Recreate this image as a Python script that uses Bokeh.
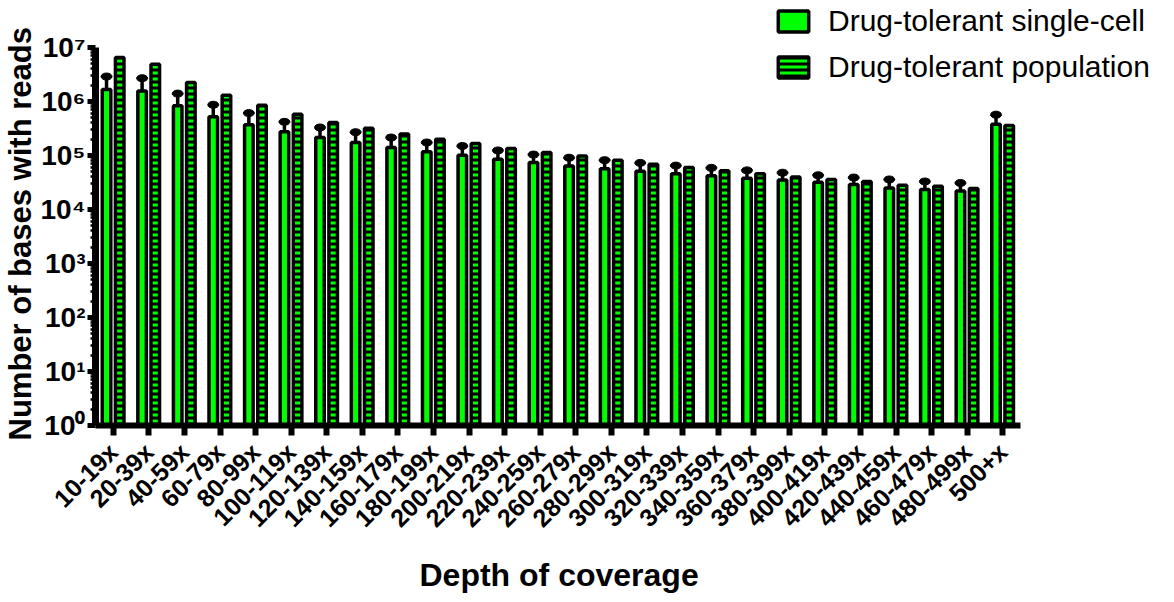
from bokeh.plotting import figure
from bokeh.models import ColumnDataSource, Range1d, FixedTicker, Legend, LegendItem, Title
from bokeh.transform import dodge
from bokeh.embed import file_html
from bokeh.resources import INLINE

categories = ["10-19x", "20-39x", "40-59x", "60-79x", "80-99x", "100-119x", "120-139x",
              "140-159x", "160-179x", "180-199x", "200-219x", "220-239x", "240-259x",
              "260-279x", "280-299x", "300-319x", "320-339x", "340-359x", "360-379x",
              "380-399x", "400-419x", "420-439x", "440-459x", "460-479x", "480-499x", "500+x"]
single_cell = [1.66e6, 1.56e6, 8.3e5, 5.2e5, 3.7e5, 2.75e5, 2.15e5, 1.74e5, 1.41e5, 1.17e5,
               1.01e5, 8.5e4, 7.4e4, 6.4e4, 5.7e4, 5.1e4, 4.6e4, 4.2e4, 3.8e4, 3.5e4,
               3.2e4, 2.9e4, 2.5e4, 2.34e4, 2.2e4, 3.8e5]
single_cell_upper = [2.9e6, 2.7e6, 1.4e6, 8.7e5, 6.1e5, 4.2e5, 3.3e5, 2.7e5, 2.15e5, 1.74e5,
                     1.5e5, 1.24e5, 1.04e5, 9.1e4, 8.2e4, 7.3e4, 6.5e4, 5.9e4, 5.3e4, 4.8e4,
                     4.3e4, 3.9e4, 3.6e4, 3.3e4, 3.1e4, 5.7e5]
population = [6.5e6, 4.9e6, 2.24e6, 1.31e6, 8.5e5, 5.8e5, 4.1e5, 3.2e5, 2.5e5, 2.0e5,
              1.66e5, 1.35e5, 1.14e5, 9.8e4, 8.2e4, 6.9e4, 6.0e4, 5.2e4, 4.6e4, 4.0e4,
              3.6e4, 3.3e4, 2.8e4, 2.7e4, 2.45e4, 3.6e5]
y_ticks = [1, 10, 100, 1e3, 1e4, 1e5, 1e6, 1e7]
y_tick_labels = ["10⁰", "10¹", "10²", "10³", "10⁴", "10⁵", "10⁶", "10⁷"]
series_names = ["Drug-tolerant single-cell", "Drug-tolerant population"]
x_title = "Depth of coverage"
y_title = "Number of bases with reads"

GREEN = "#00FF00"
FONT = "Liberation Sans"
N = len(categories)
idx = list(range(N))

# frame extends over the legend area; axes are bounded to the data area
FRAME_W, FRAME_H = 1076, 425
X_END = -0.5 + FRAME_W / 35.58
Y_END = 10 ** (7 + 47 / 54.0)

src = ColumnDataSource(dict(x=idx, single=single_cell, upper=single_cell_upper,
                            pop=population, base=[1] * N))

p = figure(x_range=Range1d(-0.5, X_END), y_axis_type="log", y_range=Range1d(1, Y_END),
           frame_width=FRAME_W, frame_height=FRAME_H,
           output_backend="svg", toolbar_location=None,
           min_border_left=94, min_border_right=0, min_border_top=0, min_border_bottom=0)

r1 = p.vbar(x=dodge("x", -0.19), top="single", bottom="base", width=0.24,
            source=src, fill_color=GREEN, line_color="black", line_width=3.5)
r2 = p.vbar(x=dodge("x", 0.18), top="pop", bottom="base", width=0.24,
            source=src, fill_color=GREEN, line_color="black", line_width=3.5,
            hatch_pattern="horizontal_line", hatch_color="black", hatch_scale=6, hatch_weight=3)
p.segment(x0=dodge("x", -0.19), y0="single", x1=dodge("x", -0.19), y1="upper",
          source=src, line_color="black", line_width=3.5)
p.ellipse(x=dodge("x", -0.19), y="upper", width=11, height=7,
          width_units="screen", height_units="screen", source=src,
          fill_color="black", line_color="black")

p.xgrid.visible = False
p.ygrid.visible = False
p.outline_line_color = None

# y axis
minor = [k * 10 ** e for e in range(0, 7) for k in range(2, 10)]
p.yaxis.ticker = FixedTicker(ticks=y_ticks, minor_ticks=minor)
p.yaxis.bounds = (1, 1e7)
p.yaxis.major_label_overrides = {t: l for t, l in zip(y_ticks, y_tick_labels)}
p.yaxis.major_label_text_font = FONT
p.yaxis.major_label_text_font_style = "bold"
p.yaxis.major_label_text_font_size = "28px"
p.yaxis.major_label_text_color = "black"
p.yaxis.major_label_standoff = 2
p.yaxis.axis_line_width = 7
p.yaxis.axis_line_color = "black"
p.yaxis.major_tick_line_width = 5
p.yaxis.major_tick_out = 8
p.yaxis.major_tick_in = 0
p.yaxis.minor_tick_line_width = 2.5
p.yaxis.minor_tick_out = 5
p.yaxis.minor_tick_in = 0

# x axis
p.xaxis.ticker = FixedTicker(ticks=idx)
p.xaxis.bounds = (-0.5, N - 0.5)
p.xaxis.major_label_overrides = {i: c for i, c in zip(idx, categories)}
p.xaxis.major_label_orientation = 0.785398
p.xaxis.major_label_text_font = FONT
p.xaxis.major_label_text_font_style = "bold"
p.xaxis.major_label_text_font_size = "25px"
p.xaxis.major_label_text_color = "black"
p.xaxis.major_label_standoff = 12
p.xaxis.axis_line_width = 6
p.xaxis.axis_line_color = "black"
p.xaxis.major_tick_line_width = 6
p.xaxis.major_tick_out = 10
p.xaxis.major_tick_in = 0
p.xaxis.minor_tick_line_color = None

# axis titles placed as side titles so they can be offset like the reference
p.add_layout(Title(text=y_title, align="left", offset=-15, standoff=0,
                   text_font=FONT, text_font_size="31px", text_font_style="bold",
                   text_color="black"), "left")
p.add_layout(Title(text=x_title, align="left", offset=324, standoff=18,
                   text_font=FONT, text_font_size="32px", text_font_style="bold",
                   text_color="black"), "below")

legend = Legend(items=[LegendItem(label=series_names[0], renderers=[r1]),
                       LegendItem(label=series_names[1], renderers=[r2])],
                location=(679, 341))
legend.border_line_color = None
legend.background_fill_alpha = 0
legend.label_text_font = FONT
legend.label_text_font_size = "30px"
legend.label_text_color = "black"
legend.glyph_width = 38
legend.glyph_height = 26
legend.label_standoff = 16
legend.spacing = 12
legend.padding = 0
legend.margin = 0
p.add_layout(legend)

open("out.html", "w").write(file_html(p, INLINE))
